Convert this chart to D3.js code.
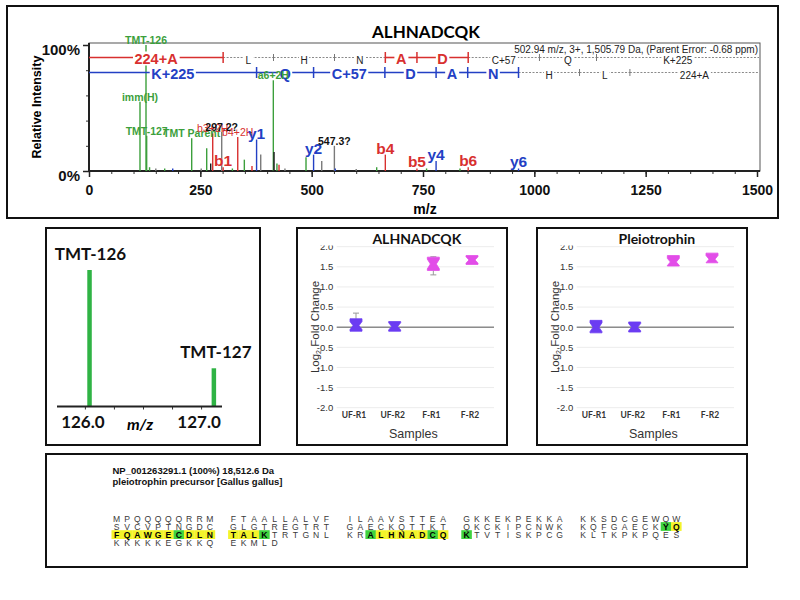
<!DOCTYPE html>
<html><head><meta charset="utf-8">
<script src="https://cdn.jsdelivr.net/npm/d3@7"></script>
<style>body{margin:0;background:#fff}</style>
</head><body>
<svg id="c" width="800" height="600" xmlns="http://www.w3.org/2000/svg"></svg>
<script>
// ---------------- DATA ----------------
// MS/MS spectrum peaks (m/z, relative intensity %, colour class, label)
const peakMz    = [114.5, 128.0, 129.5, 136, 150, 170, 188, 230.6, 252, 264.3, 273.3, 277.8, 298, 301.2, 322, 334, 348.8, 366, 376.3, 385.6, 413.9, 415.5, 422, 426.7, 440, 487.3, 504.3, 522.6, 551, 553, 600, 646, 665.4, 736.4, 758, 779.4, 833, 851.5, 964.5];
const peakInt   = [55, 100, 28, 3, 2, 2, 2, 26, 2, 18, 6, 30, 31, 3, 2, 27, 9, 4, 25, 13, 72, 15, 6, 5, 2, 11, 13, 8, 20, 2, 1.5, 3, 13, 2, 2, 8, 2, 3, 2];
const peakColor = ["g","g","g","g","s","g","b","g","s","g","k","r","s","r","g","r","g","r","b","s","g","k","g","r","s","g","b","s","s","b","s","g","r","r","g","b","g","r","b"];
const peakLabel = ["imm(H)","TMT-126","TMT-127","","","","","TMT Parent","","","","b3+2H","297.2?","b1","","b4+2H","","","y1","","a6+2H","","","","","","y2","","547.3?","","","","b4","b5","","y4","","b6","y6"];
// fragment ladders
const bBounds   = [0, 301.2, 414.3, 551.3, 665.4, 736.4, 851.5, 1011.5, 1139.6, 1504.5];
const bResidues = ["224+A","L","H","N","A","D","C+57","Q","K+225"];
const bSeen     = [1,0,0,0,1,1,0,0,0];
const yBounds   = [0, 376.3, 504.3, 664.4, 779.4, 850.4, 964.5, 1101.5, 1214.6, 1504.5];
const yResidues = ["K+225","Q","C+57","D","A","N","H","L","224+A"];
const ySeen     = [1,1,1,1,1,1,0,0,0];
const specXTicks = [0, 250, 500, 750, 1000, 1250, 1500];
const parentInfo = "502.94 m/z, 3+, 1,505.79 Da,  (Parent Error: -0.68 ppm)";
const peptide = "ALHNADCQK";

// TMT reporter region
const tmtMz    = [126.04, 127.11];
const tmtInt   = [1.0, 0.28];
const tmtNames = ["TMT-126", "TMT-127"];
const tmtTicks = [126.0, 127.0];

// Box plots
const samples = ["UF-R1", "UF-R2", "F-R1", "F-R2"];
const boxYTicks = [-2.0, -1.5, -1.0, -0.5, 0.0, 0.5, 1.0, 1.5, 2.0];
const pepMin   = [-0.10, -0.10, 1.30, 1.56];
const pepQ1    = [-0.10, -0.10, 1.41, 1.56];
const pepMed   = [0.04, 0.02, 1.57, 1.67];
const pepQ3    = [0.21, 0.14, 1.74, 1.78];
const pepMax   = [0.35, 0.14, 1.75, 1.78];
const pepNotch = [0.10, 0.09, 0.12, 0.08];
const proMin   = [-0.14, -0.12, 1.52, 1.60];
const proQ1    = [-0.14, -0.12, 1.52, 1.60];
const proMed   = [0.00, 0.00, 1.62, 1.69];
const proQ3    = [0.17, 0.13, 1.78, 1.84];
const proMax   = [0.17, 0.13, 1.78, 1.84];
const proNotch = [0.11, 0.09, 0.09, 0.09];

// Protein sequence
const proteinHeader = ["NP_001263291.1 (100%) 18,512.6 Da", "pleiotrophin precursor [Gallus gallus]"];
const seqRows = [
  "MPQQQQQRRM FTAALLALVF ILAAVSTTEA GKKEKPEKKA KKSDCGEWQW",
  "SVCVPTNGDC GLGTREGTRT GAECKQTTKT QKCKIPCNWK KQFGAECKYQ",
  "FQAWGECDLN TALKTRTGNL KRALHNADCQ KTVTISKPCG KLTKPKPQES",
  "KKKKKEGKKQ EKMLD"
];
const seqMarks = [
  ".......... .......... .......... .......... ..........",
  ".......... .......... .......... .......... ........gy",
  "yyyyyygyyy yyyg...... ..gyyyyygy g......... ..........",
  ".......... ....."
];

// ---------------- DRAW ----------------
const ARIAL = "'Liberation Sans', Arial, sans-serif";
const CAL = "Lato, 'Open Sans', sans-serif";
const COL = {g:"#3c9f3c", r:"#d8302f", b:"#2340c4", k:"#1a1a1a", s:"#7a7a7a"};
const svg = d3.select("#c");
svg.append("rect").attr("width",800).attr("height",600).attr("fill","#fff");

// ===== Top spectrum panel =====
const topG = svg.append("g");
const sx = d3.scaleLinear().domain([0,1500]).range([89,757]);
const sy = d3.scaleLinear().domain([0,100]).range([171,45]);

topG.append("text").attr("x",426).attr("y",38).attr("text-anchor","middle")
  .attr("font-family",CAL).attr("font-weight","bold").attr("font-size",17).text(peptide);

// frame
topG.append("rect").attr("x",89).attr("y",43).attr("width",671).attr("height",128)
  .attr("fill","none").attr("stroke","#555").attr("stroke-width",1);

// x axis
const xMinor = d3.range(0,1501,50);
const xa = topG.append("g").attr("transform","translate(0,171)")
  .call(d3.axisBottom(sx).tickValues(xMinor).tickSize(3).tickFormat(""));
xa.select(".domain").remove();
xa.selectAll("line").attr("stroke","#333");
const xb = topG.append("g").attr("transform","translate(0,171)")
  .call(d3.axisBottom(sx).tickValues(specXTicks).tickSize(6).tickFormat(d3.format("d")));
xb.select(".domain").remove();
xb.selectAll("line").attr("stroke","#222").attr("stroke-width",1.5);
xb.selectAll("text").attr("font-family",ARIAL).attr("font-weight","bold").attr("font-size",14).attr("fill","#111").attr("y",14);
topG.append("line").attr("x1",89).attr("x2",760).attr("y1",171).attr("y2",171).attr("stroke","#222").attr("stroke-width",2);
topG.append("text").attr("x",425).attr("y",214).attr("text-anchor","middle")
  .attr("font-family",ARIAL).attr("font-weight","bold").attr("font-size",14).text("m/z");

// y axis
const ya = topG.append("g").attr("transform","translate(89,0)")
  .call(d3.axisLeft(sy).tickValues([20,40,60,80]).tickSize(3).tickFormat(""));
ya.select(".domain").remove();
ya.selectAll("line").attr("stroke","#333");
const yb = topG.append("g").attr("transform","translate(89,0)")
  .call(d3.axisLeft(sy).tickValues([0,100]).tickSize(6).tickFormat(d => d + "%"));
yb.select(".domain").remove();
yb.selectAll("line").attr("stroke","#222").attr("stroke-width",1.5);
yb.selectAll("text").attr("font-family",ARIAL).attr("font-weight","bold").attr("font-size",15).attr("fill","#111").attr("dy","0.62em");
topG.append("line").attr("x1",89).attr("x2",89).attr("y1",43).attr("y2",172).attr("stroke","#222").attr("stroke-width",2);
topG.append("text").attr("transform","translate(41,107) rotate(-90)").attr("text-anchor","middle")
  .attr("font-family",ARIAL).attr("font-weight","bold").attr("font-size",12.5).text("Relative Intensity");

// peaks
const peaks = peakMz.map((m,i)=>({mz:m, v:peakInt[i], c:peakColor[i], lab:peakLabel[i]}));
topG.append("g").selectAll("line").data(peaks).join("line")
  .attr("x1",d=>sx(d.mz)).attr("x2",d=>sx(d.mz))
  .attr("y1",sy(0)).attr("y2",d=>sy(d.v))
  .attr("stroke",d=>COL[d.c]).attr("stroke-width",1.4);

// ladders
function withBg(parent, x, y, txt, attrs) {
  const gg = parent.append("g");
  const r = gg.append("rect").attr("fill","#fff");
  const t = gg.append("text").attr("x",x).attr("y",y).attr("text-anchor","middle").attr("dominant-baseline","central").text(txt);
  Object.entries(attrs).forEach(([k,v])=>t.attr(k,v));
  const bb = t.node().getBBox();
  r.attr("x",bb.x-1.5).attr("y",bb.y+1).attr("width",bb.width+3).attr("height",bb.height-2);
  return gg;
}
function ladder(bounds, residues, seen, color, yl) {
  const lg = topG.append("g");
  const xs = bounds.map(sx);
  residues.forEach((res,i)=>{
    const l = lg.append("line").attr("x1",xs[i]).attr("x2",xs[i+1]).attr("y1",yl).attr("y2",yl);
    if (seen[i]) l.attr("stroke",color).attr("stroke-width",1.6);
    else l.attr("stroke","#8a8a8a").attr("stroke-width",1).attr("stroke-dasharray","2,1.5");
  });
  for (let i=1;i<xs.length-1;i++){
    const on = seen[i-1] || seen[i];
    lg.append("line").attr("x1",xs[i]).attr("x2",xs[i]).attr("y1",yl-(on?5.5:3.5)).attr("y2",yl+(on?5.5:3.5))
      .attr("stroke",on?color:"#777").attr("stroke-width",on?1.5:1);
  }
  residues.forEach((res,i)=>{
    const mx = (xs[i]+xs[i+1])/2;
    if (seen[i]) withBg(lg, mx, yl+1, res, {"font-family":ARIAL,"font-weight":"bold","font-size":14.5,"fill":color});
    else withBg(lg, mx, yl+3, res, {"font-family":ARIAL,"font-size":10,"fill":"#222"});
  });
}
ladder(bBounds, bResidues, bSeen, COL.r, 57.5);
ladder(yBounds, yResidues, ySeen, COL.b, 72.5);

topG.append("text").attr("x",758).attr("y",53).attr("text-anchor","end")
  .attr("font-family",ARIAL).attr("font-size",10).attr("fill","#222").text(parentInfo);

// peak labels
topG.append("g").selectAll("text").data(peaks.filter(d=>d.lab)).join("text")
  .attr("x",d=>sx(d.mz)).attr("y",d=>Math.min(sy(d.v)-1, 171-2))
  .attr("text-anchor","middle")
  .attr("font-family",ARIAL)
  .attr("font-weight",d=>(d.c==="r" && !/^[by]\d$/.test(d.lab)) ? "normal" : "bold")
  .attr("font-size",d=>/^[by]\d$/.test(d.lab) ? 15.5 : 10.5)
  .attr("fill",d=>d.c==="s"?"#111":COL[d.c])
  .text(d=>d.lab);

// ===== TMT reporter panel =====
const tp = svg.append("g");
const tx = d3.scaleLinear().domain([125.76,127.18]).range([57,222]);
const ty = d3.scaleLinear().domain([0,1]).range([406.5,270]);
tp.append("g").selectAll("line").data(tmtMz).join("line")
  .attr("x1",d=>tx(d)).attr("x2",d=>tx(d)).attr("y1",ty(0)).attr("y2",(d,i)=>ty(tmtInt[i]))
  .attr("stroke","#2fb344").attr("stroke-width",4.5);
const ta = tp.append("g").attr("transform","translate(0,406.5)")
  .call(d3.axisBottom(tx).tickValues([126.0,126.25,126.5,126.75,127.0]).tickSize(3).tickFormat(""));
ta.select(".domain").remove();
ta.selectAll("line").attr("stroke","#333");
tp.append("line").attr("x1",57).attr("x2",222).attr("y1",406.5).attr("y2",406.5).attr("stroke","#222").attr("stroke-width",2);
tp.append("g").selectAll("text").data(tmtTicks).join("text")
  .attr("x",d=>tx(d)-2).attr("y",428).attr("text-anchor","middle")
  .attr("font-family",CAL).attr("font-weight","bold").attr("font-size",17).attr("fill","#111")
  .text(d=>d.toFixed(1));
tp.append("g").selectAll("text").data(tmtNames).join("text")
  .attr("x",(d,i)=>tx(tmtMz[i])+(i?2:1)).attr("y",(d,i)=>ty(tmtInt[i])-10)
  .attr("text-anchor","middle")
  .attr("font-family",CAL).attr("font-weight","bold").attr("font-size",17).attr("fill","#111")
  .text(d=>d);
tp.append("text").attr("x",140).attr("y",430).attr("text-anchor","middle")
  .attr("font-family",CAL).attr("font-weight","bold").attr("font-style","italic").attr("font-size",16).text("m/z");

// ===== Box plot panels =====
function boxPanel(left, title, mn, q1, med, q3, mx, notch) {
  const g = svg.append("g");
  const pl = left + 39.7, pr = left + 197;
  const bx = d3.scalePoint().domain(samples).range([left+59, left+175]);
  const by = d3.scaleLinear().domain([-2,2]).range([407.7,246.7]);
  g.append("g").selectAll("line").data(boxYTicks).join("line")
    .attr("x1",pl).attr("x2",pr).attr("y1",d=>by(d)).attr("y2",d=>by(d))
    .attr("stroke","#ececec").attr("stroke-width",1);
  g.append("line").attr("x1",pl).attr("x2",pr).attr("y1",by(0)).attr("y2",by(0))
    .attr("stroke","#8c8c8c").attr("stroke-width",1.6);
  g.append("g").selectAll("text").data(boxYTicks).join("text")
    .attr("x",pl-3.5).attr("y",d=>by(d)).attr("dy","0.35em").attr("text-anchor","end")
    .attr("font-family",ARIAL).attr("font-size",9.5).attr("fill","#333")
    .text(d=>d3.format(".1f")(d).replace("−","-"));
  // title with white background (covers top tick label)
  g.append("rect").attr("x",left+15).attr("y",230).attr("width",190).attr("height",15.5).attr("fill","#fff");
  g.append("text").attr("x",(pl+pr)/2+1.5).attr("y",244).attr("text-anchor","middle")
    .attr("font-family",CAL).attr("font-weight","bold").attr("font-size",14).attr("fill","#111").text(title);
  // boxes
  samples.forEach((s,i)=>{
    const cx = bx(s);
    const col = i<2 ? "#6b3cf2" : "#e24de8";
    const hw = 6, nw = 3;
    const nhi = Math.min(med[i]+notch[i], q3[i]), nlo = Math.max(med[i]-notch[i], q1[i]);
    if (mx[i] > q3[i]) {
      g.append("line").attr("x1",cx).attr("x2",cx).attr("y1",by(q3[i])).attr("y2",by(mx[i])).attr("stroke","#999");
      g.append("line").attr("x1",cx-3).attr("x2",cx+3).attr("y1",by(mx[i])).attr("y2",by(mx[i])).attr("stroke","#999");
    }
    if (mn[i] < q1[i]) {
      g.append("line").attr("x1",cx).attr("x2",cx).attr("y1",by(q1[i])).attr("y2",by(mn[i])).attr("stroke","#999");
      g.append("line").attr("x1",cx-3).attr("x2",cx+3).attr("y1",by(mn[i])).attr("y2",by(mn[i])).attr("stroke","#999");
    }
    const p = d3.path();
    p.moveTo(cx-hw, by(q3[i])); p.lineTo(cx+hw, by(q3[i])); p.lineTo(cx+hw, by(nhi));
    p.lineTo(cx+nw, by(med[i])); p.lineTo(cx+hw, by(nlo)); p.lineTo(cx+hw, by(q1[i]));
    p.lineTo(cx-hw, by(q1[i])); p.lineTo(cx-hw, by(nlo)); p.lineTo(cx-nw, by(med[i]));
    p.lineTo(cx-hw, by(nhi)); p.closePath();
    g.append("path").attr("d",p.toString()).attr("fill",col).attr("stroke",col).attr("stroke-width",0.8).attr("stroke-linejoin","round");
  });
  g.append("g").selectAll("text").data(samples).join("text")
    .attr("x",d=>bx(d)-2).attr("y",417.5).attr("text-anchor","middle")
    .attr("font-family",CAL).attr("font-weight","bold").attr("font-size",8.5).attr("fill","#333").text(d=>d);
  g.append("text").attr("x",(pl+pr)/2-2).attr("y",438).attr("text-anchor","middle")
    .attr("font-family",ARIAL).attr("font-size",12.5).attr("fill","#333").text("Samples");
  const yl = g.append("text").attr("transform",`translate(${left+22},327) rotate(-90)`).attr("text-anchor","middle")
    .attr("font-family",ARIAL).attr("font-size",11.5).attr("fill","#333");
  yl.append("tspan").text("Log");
  yl.append("tspan").attr("font-size",7).attr("dy",2).text("2");
  yl.append("tspan").attr("dy",-2).text(" Fold Change");
}
boxPanel(297, "ALHNADCQK", pepMin, pepQ1, pepMed, pepQ3, pepMax, pepNotch);
boxPanel(537, "Pleiotrophin", proMin, proQ1, proMed, proQ3, proMax, proNotch);

// ===== Sequence panel =====
const sp = svg.append("g");
sp.append("text").attr("x",112.5).attr("y",473.5).attr("font-family",ARIAL).attr("font-weight","bold")
  .attr("font-size",9.5).attr("fill","#111").text(proteinHeader[0]);
sp.append("text").attr("x",112.5).attr("y",485).attr("font-family",ARIAL).attr("font-weight","bold")
  .attr("font-size",9.5).attr("fill","#111").text(proteinHeader[1]);
const chars = [];
seqRows.forEach((row,r)=>{
  row.split(" ").forEach((grp,gi)=>{
    const mk = seqMarks[r].split(" ")[gi];
    grp.split("").forEach((ch,ci)=>chars.push({ch, r, gi, ci, m: mk[ci]}));
  });
});
const cPitch = 10.35, gPitch = 116.6, x0 = 112.7;
const rowBase = [521.5, 529.5, 537.6, 545.7];
const cx0 = d => x0 + d.gi*gPitch + d.ci*cPitch;
sp.append("g").selectAll("rect").data(chars.filter(d=>d.m!==".")).join("rect")
  .attr("x",d=>cx0(d)-1.2).attr("y",d=>rowBase[d.r]-7.4).attr("width",cPitch+0.2).attr("height",8.8)
  .attr("fill",d=>d.m==="g" ? "#3fd33f" : "#f4f42a");
sp.append("g").selectAll("text").data(chars).join("text")
  .attr("x",d=>cx0(d)+4).attr("y",d=>rowBase[d.r]).attr("text-anchor","middle")
  .attr("font-family",ARIAL).attr("font-size",8.6)
  .attr("font-weight",d=>d.m==="."?"normal":"bold")
  .attr("fill",d=>d.m==="."?"#3a3a3a":"#000")
  .text(d=>d.ch);

// ===== Panel borders =====
const borders = [[7,6,771,212],[46,228,214,217],[297,228,210,217],[537,228,210,217],[46,454,701,113]];
svg.append("g").selectAll("rect").data(borders).join("rect")
  .attr("x",d=>d[0]).attr("y",d=>d[1]).attr("width",d=>d[2]).attr("height",d=>d[3])
  .attr("fill","none").attr("stroke","#111").attr("stroke-width",2);
</script>
</body></html>
